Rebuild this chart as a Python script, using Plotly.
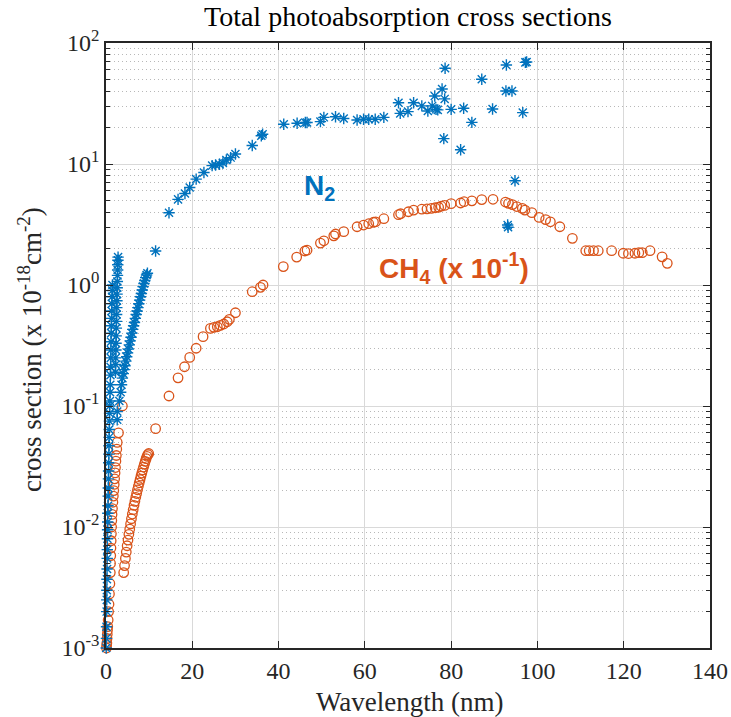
import plotly.graph_objects as go

# ---------------- data ----------------
# N2 (blue asterisks), wavelength in nm, cross section in 1e-18 cm^2
n2_low_x = [0.05, 0.1, 0.12, 0.15, 0.18, 0.2, 0.22, 0.25, 0.28, 0.3, 0.33, 0.36, 0.4, 0.43,
            0.46, 0.5, 0.53, 0.56, 0.6, 0.63, 0.66, 0.7, 0.73, 0.76, 0.8, 0.83, 0.86,
            0.9, 0.95, 1.0, 1.03, 1.06, 1.1, 1.13, 1.16, 1.2, 1.24, 1.28, 1.32, 1.36, 1.4, 1.45, 1.5,
            2.2, 2.23, 2.26, 2.3, 2.33, 2.36, 2.4, 2.43, 2.46, 2.5, 2.53, 2.56, 2.6, 2.63, 2.66,
            2.7, 2.73, 2.76, 2.8, 2.6, 2.6, 3.1]
n2_low_y = [0.001, 0.0012, 0.0015, 0.002, 0.0025, 0.003, 0.0037, 0.0045, 0.0055, 0.0065, 0.008,
            0.0095, 0.011, 0.013, 0.015, 0.018, 0.021, 0.025, 0.029, 0.034, 0.04, 0.047, 0.055,
            0.064, 0.075, 0.087, 0.1,
            0.11, 0.13, 0.15, 0.18, 0.21, 0.25, 0.29, 0.34, 0.4, 0.46, 0.53, 0.61, 0.7, 0.8, 0.9, 1.0,
            0.19, 0.22, 0.25, 0.29, 0.33, 0.38, 0.44, 0.5, 0.57, 0.65, 0.74, 0.84, 0.95, 1.07, 1.2,
            1.33, 1.47, 1.6, 1.7, 0.077, 0.09, 0.11]
n2_mid_x = [3.4, 3.6, 3.8, 4.0, 4.2, 4.4, 4.6, 4.8, 5.0, 5.2, 5.4, 5.6, 5.8, 6.0, 6.2, 6.4,
            6.6, 6.8, 7.0, 7.2, 7.4, 7.6, 7.8, 8.0, 8.2, 8.4, 8.6, 8.8, 9.0, 9.2, 9.4, 9.6]
n2_mid_y = [0.13, 0.15, 0.17, 0.185, 0.2, 0.215, 0.235, 0.255, 0.275, 0.295, 0.32, 0.345, 0.37,
            0.4, 0.43, 0.46, 0.49, 0.53, 0.57, 0.61, 0.65, 0.7, 0.75, 0.8, 0.85, 0.91, 0.97, 1.03,
            1.09, 1.15, 1.21, 1.25]
n2_high_x = [11.5, 14.6, 16.7, 18.3, 19.4, 20.9, 22.7, 24.6, 25.4, 26.3, 27.1, 27.9, 28.9, 30.0,
             33.9, 36.0, 36.3, 41.2, 44.3, 46.2, 46.6, 49.7, 50.5, 53.2, 55.1, 58.2, 59.7, 60.9,
             62.4, 64.4, 67.8, 68.2, 70.0, 71.3, 73.2, 74.6, 75.6, 76.2, 76.5, 76.9, 77.9, 78.5,
             78.6, 78.3, 80.0, 82.2, 82.9, 84.8, 87.1, 89.6, 92.8, 92.7, 94.1, 96.6, 97.2, 97.5,
             94.8, 93.1, 93.2]
n2_high_y = [1.91, 3.96, 5.1, 5.7, 6.4, 7.5, 8.5, 9.7, 9.8, 9.95, 10.2, 10.8, 11.3, 12.1,
             14.2, 17.1, 17.6, 21.3, 21.7, 22.0, 22.0, 22.4, 24.3, 24.6, 23.8, 23.1, 23.4, 23.4,
             23.4, 24.3, 32.1, 26.2, 27.1, 32.1, 30.2, 27.4, 30.2, 36.5, 28.3, 28.0, 41.7, 34.5,
             61.8, 16.2, 28.3, 13.1, 28.9, 22.1, 50.1, 28.5, 65.8, 40.1, 40.1, 26.6, 69.2, 69.6,
             7.28, 3.13, 3.0]

# CH4 (x 10^-1) (orange circles)
ch4_low_x = [0.1, 0.15, 0.2, 0.25, 0.3, 0.35, 0.4, 0.5, 0.6, 0.7, 0.8, 0.9, 1.0, 1.05, 1.1, 1.15,
             1.2, 1.25, 1.3, 1.35, 1.4, 1.5, 1.6, 1.7, 1.8, 1.9, 2.0, 2.1, 2.2, 2.3, 2.4, 2.5, 2.6,
             2.9, 3.8]
ch4_low_y = [0.001, 0.00105, 0.0011, 0.0012, 0.0013, 0.0014, 0.0015, 0.0017, 0.002, 0.0023,
             0.0028, 0.0034, 0.0042, 0.005, 0.0058, 0.0067, 0.0077, 0.0088, 0.01, 0.0113, 0.0127,
             0.0142, 0.016, 0.018, 0.02, 0.0225, 0.025, 0.028, 0.031, 0.035, 0.039, 0.044, 0.05,
             0.06, 0.1]
ch4_mid_x = [4.1, 4.3, 4.5, 4.7, 4.9, 5.1, 5.3, 5.5, 5.7, 5.9, 6.1, 6.3, 6.5, 6.7, 6.9, 7.1, 7.3,
             7.5, 7.7, 7.9, 8.1, 8.3, 8.5, 8.7, 8.9, 9.1, 9.3, 9.5, 9.7, 9.9]
ch4_mid_y = [0.0042, 0.0048, 0.0055, 0.0062, 0.007, 0.0078, 0.0087, 0.0096, 0.0106, 0.0117,
             0.0128, 0.0139, 0.0151, 0.0163, 0.0176, 0.0189, 0.0203, 0.0217, 0.0232, 0.0247,
             0.0263, 0.0279, 0.0296, 0.0313, 0.0331, 0.0349, 0.0367, 0.0384, 0.0396, 0.0405]
ch4_high_x = [11.5, 14.6, 16.7, 18.2, 19.4, 20.9, 22.5, 24.2, 25.0, 25.8, 26.5, 27.3, 28.1, 28.6,
              30.0, 33.9, 35.8, 36.4, 41.1, 44.2, 46.1, 46.6, 49.7, 50.5, 52.8, 53.2, 55.1, 58.2,
              59.7, 60.9, 62.0, 62.5, 64.4, 67.8, 68.3, 70.1, 71.3, 73.2, 74.4, 75.4, 76.3, 77.1,
              77.7, 78.5, 80.0, 82.2, 83.0, 84.8, 87.1, 89.7, 92.6, 93.3, 94.2, 95.2, 96.5, 97.1,
              98.7, 100.4, 101.9, 103.0, 105.2, 108.1, 111.2, 112.0, 113.0, 114.1, 117.2, 119.9,
              121.1, 122.6, 123.5, 124.3, 126.1, 128.9, 130.1]
ch4_high_y = [0.065, 0.121, 0.171, 0.211, 0.252, 0.300, 0.374, 0.438, 0.447, 0.452, 0.464, 0.476,
              0.497, 0.52, 0.59, 0.88, 0.956, 1.0, 1.42, 1.70, 1.91, 1.94, 2.22, 2.32, 2.55, 2.64,
              2.76, 3.03, 3.13, 3.21, 3.30, 3.33, 3.53, 3.81, 3.88, 4.03, 4.16, 4.23, 4.25, 4.30,
              4.35, 4.39, 4.48, 4.55, 4.70, 4.76, 4.88, 4.96, 5.08, 5.11, 4.85, 4.73, 4.62, 4.45,
              4.30, 4.16, 3.96, 3.62, 3.47, 3.33, 3.03, 2.43, 1.92, 1.92, 1.92, 1.92, 1.92, 1.83,
              1.82, 1.83, 1.85, 1.85, 1.92, 1.71, 1.51]

x_ticks = [0, 20, 40, 60, 80, 100, 120, 140]
y_ticks = [1e-3, 1e-2, 1e-1, 1e0, 1e1, 1e2]
y_ticktext = ["10<sup>-3</sup>", "10<sup>-2</sup>", "10<sup>-1</sup>", "10<sup>0</sup>",
              "10<sup>1</sup>", "10<sup>2</sup>"]
y_minor = [m * 10 ** e for e in range(-3, 2) for m in range(2, 10)]

BLUE = "#0072BD"
ORANGE = "#D95319"
INK = "#262626"
SERIF = "Liberation Serif, Times New Roman, serif"
SANS = "Liberation Sans, Arial, sans-serif"

fig = go.Figure()
fig.add_trace(go.Scatter(
    x=ch4_low_x + ch4_mid_x + ch4_high_x, y=ch4_low_y + ch4_mid_y + ch4_high_y,
    mode="markers", cliponaxis=False, showlegend=False,
    marker=dict(symbol="circle-open", size=9.5, color=ORANGE, line=dict(color=ORANGE, width=1.3))))
fig.add_trace(go.Scatter(
    x=n2_low_x + n2_mid_x + n2_high_x, y=n2_low_y + n2_mid_y + n2_high_y,
    mode="markers", cliponaxis=False, showlegend=False,
    marker=dict(symbol="asterisk-open", size=9.5, color=BLUE, line=dict(color=BLUE, width=1.4))))

# in-plot labels
fig.add_annotation(xref="paper", yref="paper", x=0.325, y=0.793, showarrow=False,
                   text="<b>N<sub>2</sub></b>", font=dict(family=SANS, size=28, color=BLUE))
fig.add_annotation(xref="paper", yref="paper", x=0.576, y=0.628, showarrow=False,
                   text="<b>CH<sub>4</sub> (x 10<sup>-1</sup>)</b>",
                   font=dict(family=SANS, size=28, color=ORANGE))
# title and axis titles
fig.add_annotation(xref="paper", yref="paper", x=0.5, y=1.0446, showarrow=False,
                   xanchor="center", yanchor="middle",
                   text="Total photoabsorption cross sections",
                   font=dict(family=SERIF, size=28, color="black"))
fig.add_annotation(xref="paper", yref="paper", x=0.503, y=-0.0895, showarrow=False,
                   xanchor="center", yanchor="middle", text="Wavelength (nm)",
                   font=dict(family=SERIF, size=27, color=INK))
fig.add_annotation(xref="paper", yref="paper", x=-0.1258, y=0.4926, showarrow=False,
                   xanchor="center", yanchor="middle", textangle=-90,
                   text="cross section (x 10<sup>-18</sup>cm<sup>-2</sup>)",
                   font=dict(family=SERIF, size=27, color=INK))

axis_common = dict(showline=True, linecolor=INK, linewidth=1.5, mirror="allticks",
                   ticks="inside", ticklen=7, tickcolor=INK, tickwidth=1, automargin=False,
                   showgrid=True, gridcolor="#d9d9d9", gridwidth=1, zeroline=False,
                   tickfont=dict(family=SERIF, size=24, color=INK))

fig.update_xaxes(range=[0, 140], tickvals=x_ticks, ticktext=[str(v) for v in x_ticks],
                 **axis_common)
fig.update_yaxes(type="log", range=[-3, 2], tickvals=y_ticks, ticktext=y_ticktext,
                 minor=dict(ticks="inside", ticklen=4, tickcolor=INK, tickvals=y_minor,
                            showgrid=True, gridcolor="#b8b8b8", griddash="1px,3px", gridwidth=1),
                 **axis_common)

fig.update_layout(
    width=731, height=717,
    margin=dict(l=106, r=21, t=43, b=69, autoexpand=False),
    paper_bgcolor="white", plot_bgcolor="white",
)

fig.write_html("out.html")
